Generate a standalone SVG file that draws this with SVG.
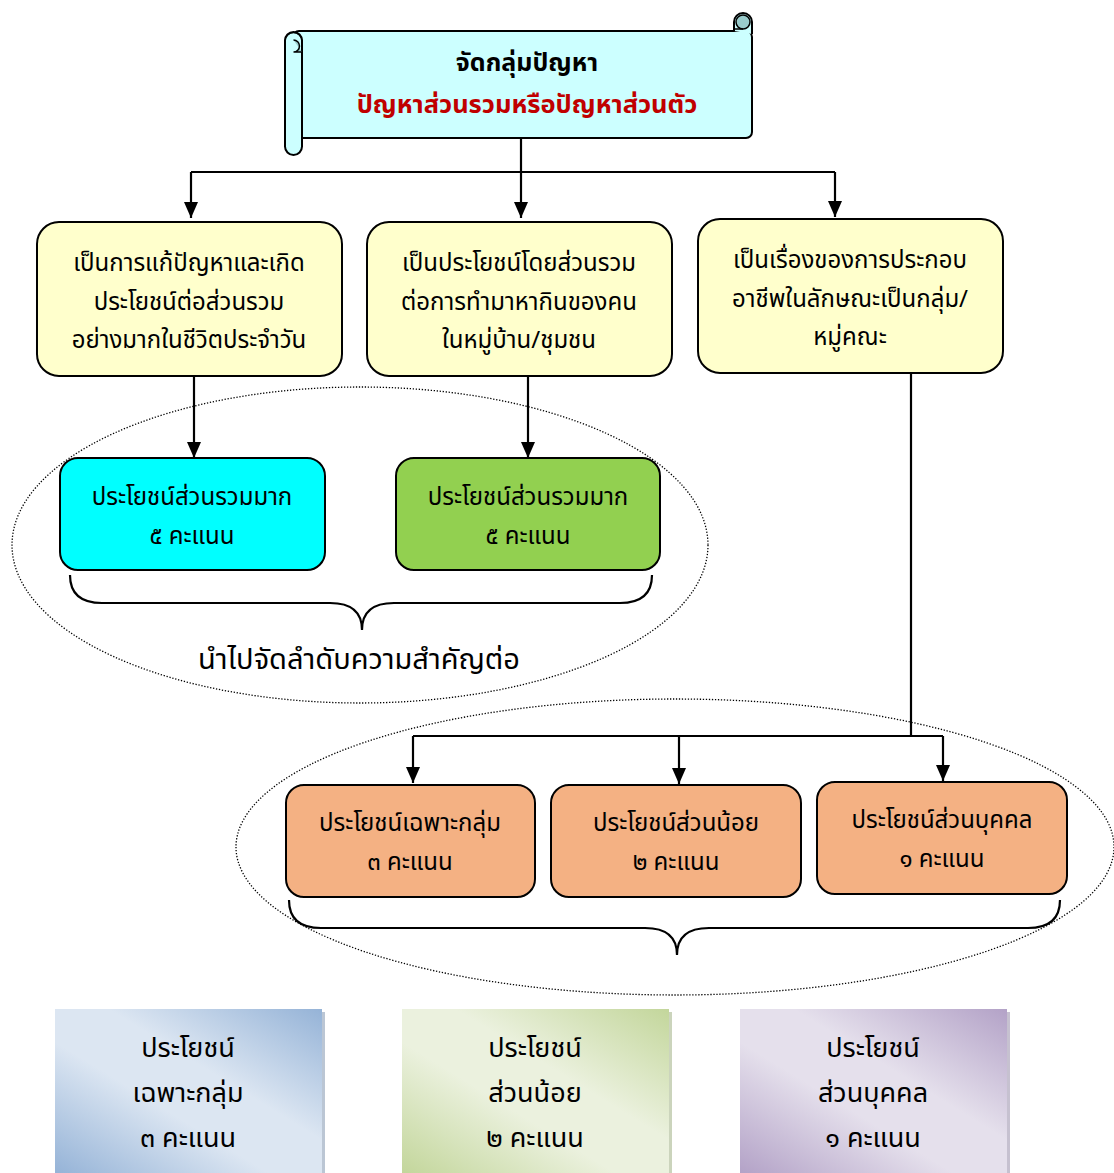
<svg xmlns="http://www.w3.org/2000/svg" width="1114" height="1173" viewBox="0 0 1114 1173">
<defs>
<style>
.t{font-family:"Noto Sans Thai","Noto Sans Thai Looped","Loma","Garuda","Tlwg Typo","DejaVu Sans",sans-serif;text-anchor:middle;fill:#000}
.bx{font-size:24px}
.big{font-size:27px}
.box{stroke:#000;stroke-width:2}
.ln{fill:none;stroke:#000;stroke-width:2.2}
.ell{fill:none;stroke:#000;stroke-width:1.3;stroke-dasharray:1.3 1.7}
</style>
<marker id="ah" markerWidth="16" markerHeight="14" refX="16" refY="7" orient="auto" markerUnits="userSpaceOnUse" viewBox="0 0 16 14">
<path d="M0,0 L16,7 L0,14 Z" fill="#000"/>
</marker>
<linearGradient id="gb" x1="1" y1="0" x2="0" y2="1"><stop offset="0" stop-color="#95B3D7"/><stop offset="0.4" stop-color="#DCE6F2"/><stop offset="0.6" stop-color="#DCE6F2"/><stop offset="1" stop-color="#95B3D7"/></linearGradient>
<linearGradient id="gg" x1="1" y1="0" x2="0" y2="1"><stop offset="0" stop-color="#C3D69B"/><stop offset="0.4" stop-color="#EBF1DE"/><stop offset="0.6" stop-color="#EBF1DE"/><stop offset="1" stop-color="#C3D69B"/></linearGradient>
<linearGradient id="gp" x1="1" y1="0" x2="0" y2="1"><stop offset="0" stop-color="#B3A2C7"/><stop offset="0.4" stop-color="#E5E0EC"/><stop offset="0.6" stop-color="#E5E0EC"/><stop offset="1" stop-color="#B3A2C7"/></linearGradient>
</defs>
<rect width="1114" height="1173" fill="#fff"/>

<g id="ellipses">
<ellipse class="ell" cx="360" cy="545" rx="348" ry="158"/>
<ellipse class="ell" cx="675" cy="847" rx="439" ry="148"/>
</g>

<g id="connectors">
<path class="ln" d="M521,138 V172"/>
<path class="ln" d="M191,172 H835"/>
<path class="ln" d="M191,172 V218" marker-end="url(#ah)"/>
<path class="ln" d="M521,172 V218" marker-end="url(#ah)"/>
<path class="ln" d="M835,172 V217" marker-end="url(#ah)"/>
<path class="ln" d="M194,376 V458" marker-end="url(#ah)"/>
<path class="ln" d="M528,376 V458" marker-end="url(#ah)"/>
<path class="ln" d="M911,373 V736"/>
<path class="ln" d="M413,736 H943"/>
<path class="ln" d="M413,736 V783" marker-end="url(#ah)"/>
<path class="ln" d="M679,736 V784" marker-end="url(#ah)"/>
<path class="ln" d="M943,736 V781" marker-end="url(#ah)"/>
</g>

<g id="scroll">
<rect x="293" y="31" width="459" height="107" rx="6" fill="#CCFFFF" stroke="#000" stroke-width="2"/>
<path d="M734,31 V22 A9,9 0 0 1 752,22 V34" fill="#CCFFFF" stroke="#000" stroke-width="2"/>
<circle cx="743" cy="22" r="7" fill="#99CCCC" stroke="#000" stroke-width="1.5"/>
<path d="M743,29 H734" stroke="#000" stroke-width="1.5" fill="none"/>
<rect x="285" y="32" width="17" height="123" rx="8.5" fill="#CCFFFF" stroke="#000" stroke-width="2"/>
<path d="M293.5,40 A6,6 0 0 1 293.5,52 L302,52" fill="#99CCCC" stroke="#000" stroke-width="1.5"/>
<path d="M285,41 A8.5,8.5 0 0 1 302,41" fill="none" stroke="#000" stroke-width="1.5"/>
<text class="t" x="527" y="71" font-size="25" font-weight="bold">จัดกลุ่มปัญหา</text>
<text class="t" x="527" y="113" font-size="25.5" font-weight="bold" style="fill:#C00000">ปัญหาส่วนรวมหรือปัญหาส่วนตัว</text>
</g>

<g id="box1">
<rect class="box" x="37" y="222" width="305" height="154" rx="22" fill="#FFFFCC"/>
<text class="t bx" x="189" y="271">เป็นการแก้ปัญหาและเกิด</text>
<text class="t bx" x="189" y="310">ประโยชน์ต่อส่วนรวม</text>
<text class="t bx" x="189" y="348">อย่างมากในชีวิตประจำวัน</text>
</g>
<g id="box2">
<rect class="box" x="367" y="222" width="305" height="154" rx="22" fill="#FFFFCC"/>
<text class="t bx" x="519" y="271">เป็นประโยชน์โดยส่วนรวม</text>
<text class="t bx" x="519" y="310">ต่อการทำมาหากินของคน</text>
<text class="t bx" x="519" y="348">ในหมู่บ้าน/ชุมชน</text>
</g>
<g id="box3">
<rect class="box" x="698" y="219" width="305" height="154" rx="22" fill="#FFFFCC"/>
<text class="t bx" x="850" y="268">เป็นเรื่องของการประกอบ</text>
<text class="t bx" x="850" y="307">อาชีพในลักษณะเป็นกลุ่ม/</text>
<text class="t bx" x="850" y="345">หมู่คณะ</text>
</g>

<g id="cyanbox">
<rect class="box" x="60" y="458" width="265" height="112" rx="18" fill="#00FFFF"/>
<text class="t bx" x="192" y="505">ประโยชน์ส่วนรวมมาก</text>
<text class="t bx" x="192" y="544">๕ คะแนน</text>
</g>
<g id="greenbox">
<rect class="box" x="396" y="458" width="264" height="112" rx="18" fill="#92D050"/>
<text class="t bx" x="528" y="505">ประโยชน์ส่วนรวมมาก</text>
<text class="t bx" x="528" y="544">๕ คะแนน</text>
</g>

<g id="brace1">
<path class="ln" d="M70,575 Q70,603 102,603 H330 Q362,603 362,630 Q362,603 394,603 H620 Q652,603 652,575"/>
<text class="t" x="359" y="669" font-size="29">นำไปจัดลำดับความสำคัญต่อ</text>
</g>

<g id="orange1">
<rect class="box" x="286" y="785" width="249" height="112" rx="18" fill="#F4B183"/>
<text class="t bx" x="410" y="831">ประโยชน์เฉพาะกลุ่ม</text>
<text class="t bx" x="410" y="870">๓ คะแนน</text>
</g>
<g id="orange2">
<rect class="box" x="551" y="785" width="250" height="112" rx="18" fill="#F4B183"/>
<text class="t bx" x="676" y="831">ประโยชน์ส่วนน้อย</text>
<text class="t bx" x="676" y="870">๒ คะแนน</text>
</g>
<g id="orange3">
<rect class="box" x="817" y="782" width="250" height="112" rx="18" fill="#F4B183"/>
<text class="t bx" x="942" y="828">ประโยชน์ส่วนบุคคล</text>
<text class="t bx" x="942" y="867">๑ คะแนน</text>
</g>

<g id="brace2">
<path class="ln" d="M289,900 Q289,928 321,928 H645 Q677,928 677,955 Q677,928 709,928 H1028 Q1060,928 1060,900"/>
</g>

<g id="card1">
<rect x="58" y="1012" width="267" height="164" fill="#8EA0B8" opacity="0.6"/>
<rect x="55" y="1009" width="267" height="164" fill="url(#gb)"/>
<text class="t big" x="188" y="1057">ประโยชน์</text>
<text class="t big" x="188" y="1102">เฉพาะกลุ่ม</text>
<text class="t big" x="188" y="1147">๓ คะแนน</text>
</g>
<g id="card2">
<rect x="405" y="1012" width="267" height="164" fill="#A8B890" opacity="0.6"/>
<rect x="402" y="1009" width="267" height="164" fill="url(#gg)"/>
<text class="t big" x="535" y="1057">ประโยชน์</text>
<text class="t big" x="535" y="1102">ส่วนน้อย</text>
<text class="t big" x="535" y="1147">๒ คะแนน</text>
</g>
<g id="card3">
<rect x="743" y="1012" width="267" height="164" fill="#A098B0" opacity="0.6"/>
<rect x="740" y="1009" width="267" height="164" fill="url(#gp)"/>
<text class="t big" x="873" y="1057">ประโยชน์</text>
<text class="t big" x="873" y="1102">ส่วนบุคคล</text>
<text class="t big" x="873" y="1147">๑ คะแนน</text>
</g>
</svg>
